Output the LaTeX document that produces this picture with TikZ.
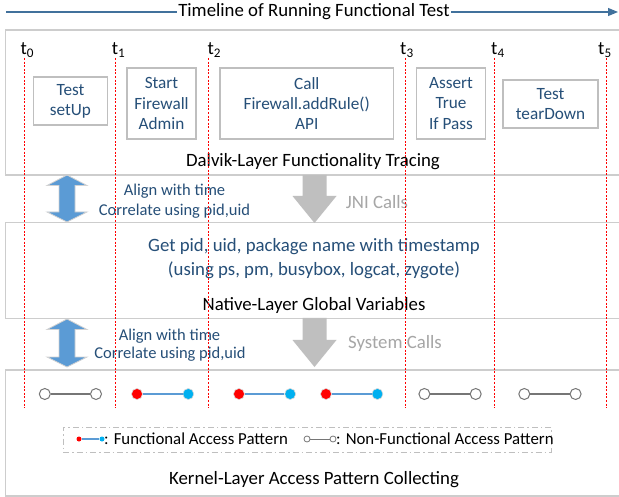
\documentclass[tikz,border=0pt]{standalone}
\usepackage{fontspec}
\setmainfont{Carlito}
\usetikzlibrary{arrows.meta}
\definecolor{boxgray}{RGB}{191,191,191}
\definecolor{layergray}{RGB}{205,205,205}
\definecolor{txtblue}{RGB}{38,79,120}
\definecolor{arrblue}{RGB}{91,155,213}
\definecolor{titleblue}{RGB}{65,113,156}
\definecolor{dotred}{RGB}{255,0,0}
\definecolor{dotblue}{RGB}{0,176,240}
\definecolor{nfgray}{RGB}{118,118,118}
\definecolor{callgray}{RGB}{166,166,166}
\begin{document}
\begin{tikzpicture}[x=1pt,y=-1pt,
  font=\fontsize{16.5}{20}\selectfont,
  big/.style={font=\fontsize{18.8}{22}\selectfont},
  layerbox/.style={draw=layergray,line width=1.5pt,anchor=north west,inner sep=0pt},
  stepbox/.style={draw=boxgray,line width=1.5pt,text=txtblue,align=center,inner sep=0pt,
    font=\fontsize{17.2}{20.2}\selectfont},
  bluetext/.style={text=txtblue,inner sep=0pt},
  graytext/.style={text=callgray,inner sep=0pt,big},
  blacktext/.style={text=black,inner sep=0pt},
  tlabel/.style={anchor=base west,inner sep=0pt,big},
  tline/.style={draw=dotred,line width=0.9pt,dash pattern=on 2pt off 1.6pt},
  fdot/.style={circle,fill=#1,draw=gray!30,line width=0.6pt,minimum size=11pt,inner sep=0pt},
  nfdot/.style={circle,fill=white,draw=nfgray,line width=1pt,minimum size=11pt,inner sep=0pt},
  sfdot/.style={circle,fill=#1,minimum size=5pt,inner sep=0pt},
  snfdot/.style={circle,fill=white,draw=nfgray,line width=0.8pt,minimum size=6pt,inner sep=0pt},
  fline/.style={draw=arrblue,line width=1.5pt},
  nfline/.style={draw=nfgray,line width=1.2pt},
  bluearrow/.style={fill=arrblue,draw=gray!35,line width=0.8pt},
  grayarrow/.style={fill=boxgray,draw=none}
]
\clip (0,0) rectangle (619,497);
\fill[white] (0,0) rectangle (619,497);

% title timeline
\coordinate (tl0) at (6,12);
\coordinate (tl1) at (618,12);
\draw[titleblue,line width=1.1pt,-{Triangle[length=10pt,width=8pt]}] (tl0) -- (tl1);
\node[fill=white,inner sep=1.5pt,big] (title) at (314,12) {Timeline of Running Functional Test};

% layer boxes
\node[layerbox,minimum width=640pt,minimum height=145pt] (dalvik) at (4.5,29.5) {};
\node[layerbox,minimum width=640pt,minimum height=96pt] (native) at (4.5,222) {};
\node[layerbox,minimum width=640pt,minimum height=126pt] (kernel) at (4.5,369) {};

% time labels
\node[tlabel] (t0) at (20.5,54.5) {t\textsubscript{0}};
\node[tlabel] (t1) at (111.7,54.5) {t\textsubscript{1}};
\node[tlabel] (t2) at (207.5,54.5) {t\textsubscript{2}};
\node[tlabel] (t3) at (400,54.5) {t\textsubscript{3}};
\node[tlabel] (t4) at (491,54.5) {t\textsubscript{4}};
\node[tlabel] (t5) at (598,54.5) {t\textsubscript{5}};

% step boxes
\node[stepbox,minimum width=74pt,minimum height=48pt] (setup) at (70.5,101) {Test\\setUp};
\node[stepbox,minimum width=69pt,minimum height=71pt] (start) at (161.5,103.5) {Start\\Firewall\\Admin};
\node[stepbox,minimum width=173.6pt,minimum height=71pt] (call) at (306.8,103.5) {Call\\Firewall.addRule()\\API};
\node[stepbox,minimum width=69pt,minimum height=71pt] (assert) at (451,103.5) {Assert\\True\\If Pass};
\node[stepbox,minimum width=95pt,minimum height=48pt] (teardown) at (550.5,104) {Test\\tearDown};
\node[blacktext,big] (dalviklab) at (313,162) {Dalvik-Layer Functionality Tracing};

% arrows between Dalvik and Native
\draw[bluearrow] (67,175) -- (87,185.5) -- (75,185.5) -- (75,212) -- (87,212) -- (67,222)
  -- (47,212) -- (59,212) -- (59,185.5) -- (47,185.5) -- cycle;
\node[bluetext] (align1) at (174.5,191) {Align with time};
\node[bluetext] (corr1) at (174.5,211) {Correlate using pid,uid};
\fill[grayarrow] (302.5,175) -- (326.5,175) -- (326.5,196) -- (336.5,196) -- (314.5,223)
  -- (292.5,196) -- (302.5,196) -- cycle;
\node[graytext] (jni) at (377,202) {JNI Calls};

% native layer texts
\node[bluetext,big] (getpid) at (314,247) {Get pid, uid, package name with timestamp};
\node[bluetext,big] (using) at (314,270) {(using ps, pm, busybox, logcat, zygote)};
\node[blacktext,big] (nativelab) at (314,305) {Native-Layer Global Variables};

% arrows between Native and Kernel
\draw[bluearrow] (67,319) -- (87,329.5) -- (75,329.5) -- (75,357) -- (87,357) -- (67,367)
  -- (47,357) -- (59,357) -- (59,329.5) -- (47,329.5) -- cycle;
\node[bluetext] (align2) at (169.5,336) {Align with time};
\node[bluetext] (corr2) at (170,354) {Correlate using pid,uid};
\fill[grayarrow] (302.5,318) -- (326.5,318) -- (326.5,340) -- (336.5,340) -- (314.5,367)
  -- (292.5,340) -- (302.5,340) -- cycle;
\node[graytext] (syscalls) at (395,343) {System Calls};

% access patterns
\node[nfdot] (p1a) at (44.8,394) {};
\node[nfdot] (p1b) at (96,394) {};
\draw[nfline] (p1a) -- (p1b);
\node[fdot=dotred] (p2a) at (137,394) {};
\node[fdot=dotblue] (p2b) at (188.3,394) {};
\draw[fline] (p2a) -- (p2b);
\node[fdot=dotred] (p3a) at (239,394) {};
\node[fdot=dotblue] (p3b) at (290.2,394) {};
\draw[fline] (p3a) -- (p3b);
\node[fdot=dotred] (p4a) at (326,394) {};
\node[fdot=dotblue] (p4b) at (377.4,394) {};
\draw[fline] (p4a) -- (p4b);
\node[nfdot] (p5a) at (424.4,394) {};
\node[nfdot] (p5b) at (475.7,394) {};
\draw[nfline] (p5a) -- (p5b);
\node[nfdot] (p6a) at (524.3,394) {};
\node[nfdot] (p6b) at (575.6,394) {};
\draw[nfline] (p6a) -- (p6b);

% legend
\node[draw=boxgray,line width=1pt,dash pattern=on 6pt off 3pt on 1.5pt off 3pt,
  minimum width=488pt,minimum height=25pt,inner sep=0pt] (legend) at (307,439.5) {};
\node[sfdot=dotred] (lf1) at (79,439) {};
\node[sfdot=dotblue] (lf2) at (102,439) {};
\draw[draw=arrblue,line width=1.2pt] (lf1) -- (lf2);
\node[blacktext,anchor=west,font=\fontsize{16.8}{20}\selectfont] (lftext) at (104,439) {: Functional Access Pattern};
\node[snfdot] (ln1) at (307,439) {};
\node[snfdot] (ln2) at (333,439) {};
\draw[nfline,line width=1pt] (ln1) -- (ln2);
\node[blacktext,anchor=west,font=\fontsize{16.8}{20}\selectfont] (lntext) at (336,439) {: Non-Functional Access Pattern};
\node[blacktext,big] (kernellab) at (314,480) {Kernel-Layer Access Pattern Collecting};

% time lines
\foreach \x/\n in {24.3/0,115.2/1,208.4/2,405.8/3,494.9/4,606/5}{
  \coordinate (ls\n) at (\x,58);
  \coordinate (le\n) at (\x,408);
  \draw[tline] (ls\n) -- (le\n);
}
\end{tikzpicture}
\end{document}
